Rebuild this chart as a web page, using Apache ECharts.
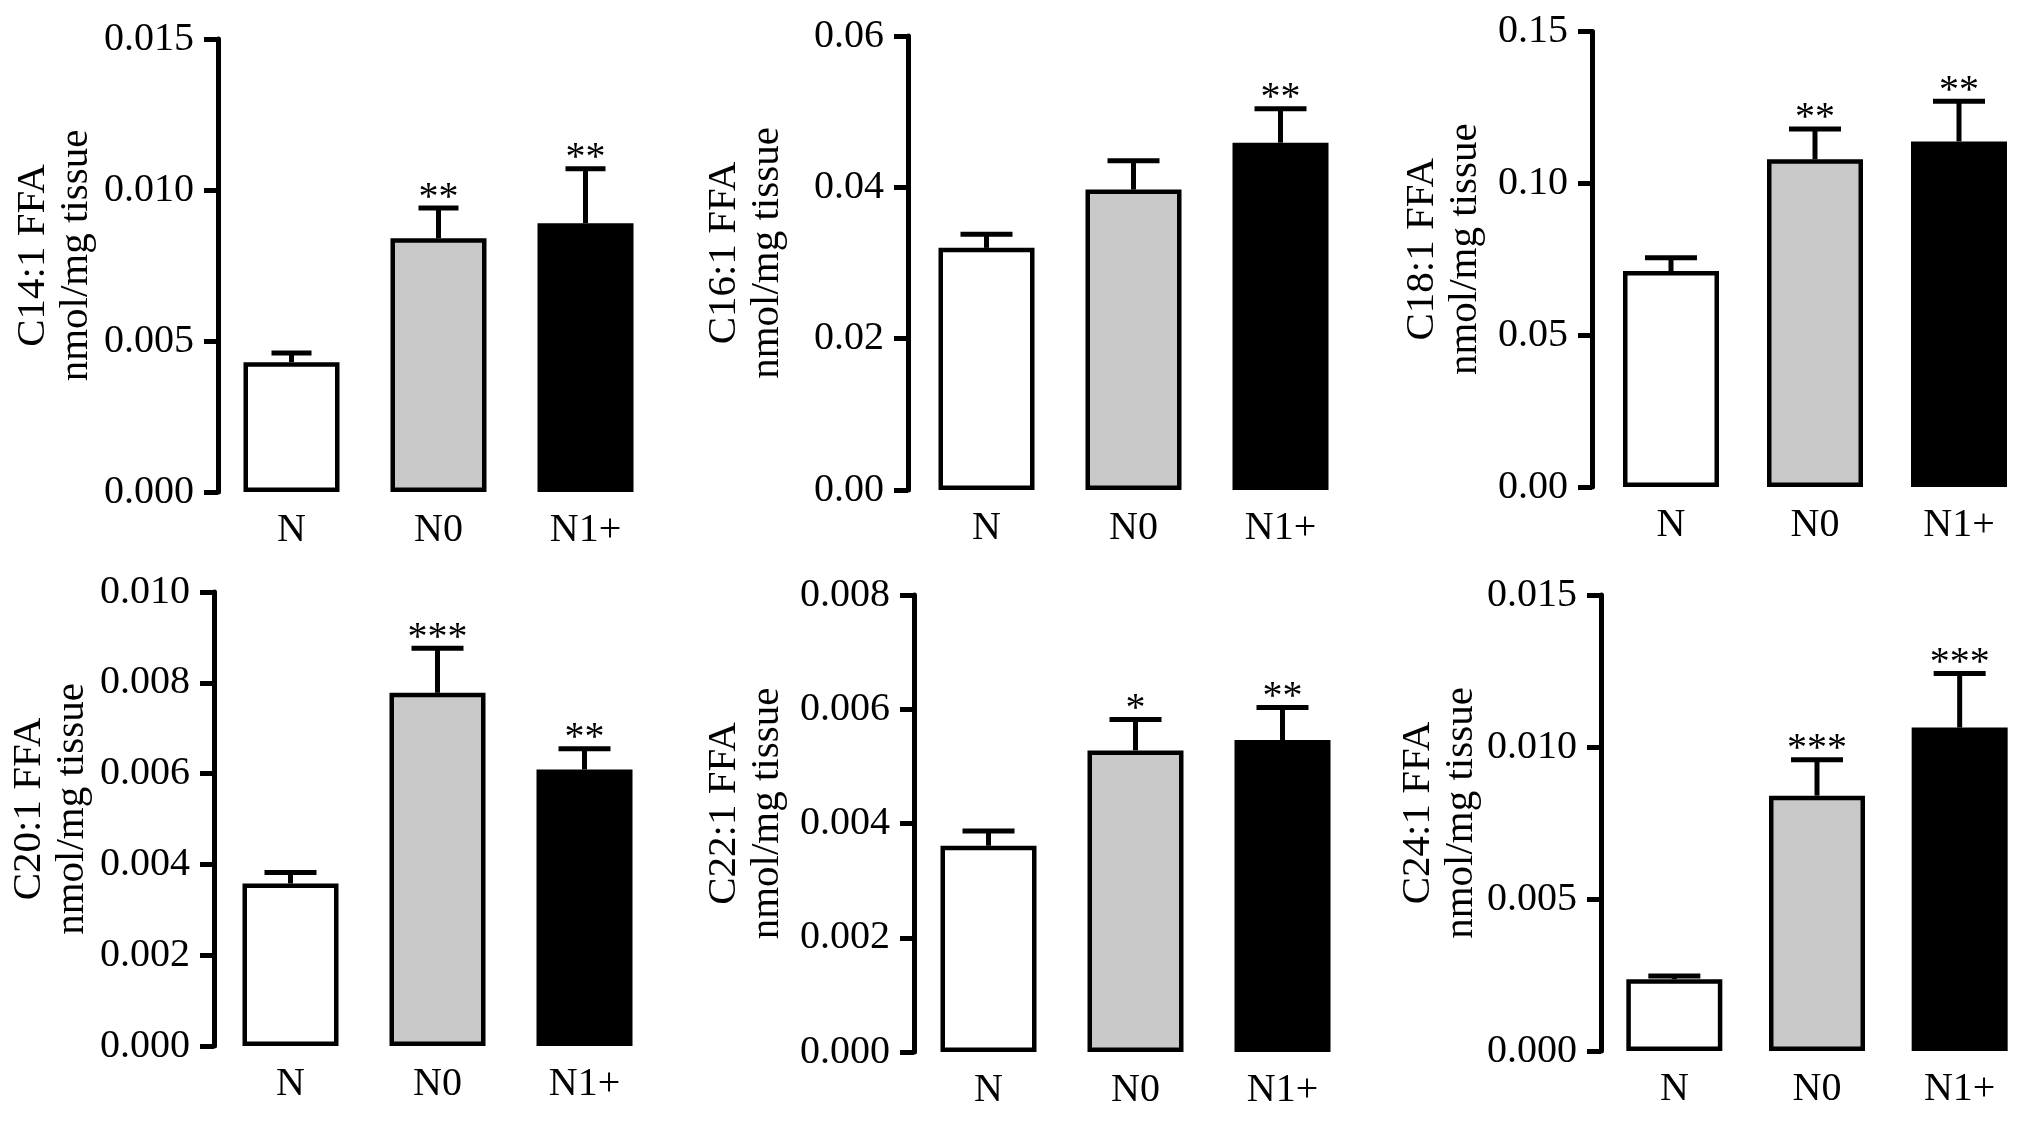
<!DOCTYPE html>
<html>
<head>
<meta charset="utf-8">
<script src="https://cdn.jsdelivr.net/npm/echarts@6/dist/echarts.min.js"></script>
<style>
html,body{margin:0;padding:0;background:#fff;}
#chart{width:2031px;height:1122px;}
</style>
</head>
<body>
<div id="chart"></div>
<script>
// ---- data ----
const categories = ['N', 'N0', 'N1+'];
const unitLabel = 'nmol/mg tissue';
const panelTitles = ['C14:1 FFA', 'C16:1 FFA', 'C18:1 FFA', 'C20:1 FFA', 'C22:1 FFA', 'C24:1 FFA'];

const c14Mean = [0.0043, 0.0084, 0.0089];
const c14Upper = [0.0046, 0.0094, 0.0107];
const c14Stars = ['', '**', '**'];

const c16Mean = [0.0320, 0.0397, 0.0459];
const c16Upper = [0.0338, 0.0435, 0.0504];
const c16Stars = ['', '', '**'];

const c18Mean = [0.0711, 0.1079, 0.1138];
const c18Upper = [0.0755, 0.1179, 0.1270];
const c18Stars = ['', '**', '**'];

const c20Mean = [0.00358, 0.00778, 0.00609];
const c20Upper = [0.00382, 0.00876, 0.00655];
const c20Stars = ['', '***', '**'];

const c22Mean = [0.00361, 0.00528, 0.00546];
const c22Upper = [0.00387, 0.00582, 0.00603];
const c22Stars = ['', '*', '**'];

const c24Mean = [0.00236, 0.0084, 0.01064];
const c24Upper = [0.00247, 0.00958, 0.01242];
const c24Stars = ['', '***', '***'];

// axis ranges: max, interval, decimals
const axisMax = [0.015, 0.06, 0.15, 0.010, 0.008, 0.015];
const axisInterval = [0.005, 0.02, 0.05, 0.002, 0.002, 0.005];
const axisDecimals = [3, 2, 2, 3, 3, 3];

// ---- layout / style ----
const means = [c14Mean, c16Mean, c18Mean, c20Mean, c22Mean, c24Mean];
const uppers = [c14Upper, c16Upper, c18Upper, c20Upper, c22Upper, c24Upper];
const stars = [c14Stars, c16Stars, c18Stars, c20Stars, c22Stars, c24Stars];

const gridBoxes = [
  {left: 218, top: 39, height: 453, off: 0, gap: 120, cap: 40},
  {left: 913, top: 36, height: 454, off: 5, gap: 119, cap: 52},
  {left: 1599, top: 31.5, height: 455.5, off: 7, gap: 105, cap: 52},
  {left: 217, top: 592, height: 454, off: 3, gap: 120, cap: 52},
  {left: 915, top: 595, height: 457, off: 1, gap: 125, cap: 52},
  {left: 1603, top: 595, height: 456, off: 2, gap: 114, cap: 52}
];
const barColors = ['#ffffff', '#c8c8c8', '#000000'];
const FONT = '"Liberation Serif", "Times New Roman", serif';

const grids = [], xAxes = [], yAxes = [], series = [];
gridBoxes.forEach((g, k) => {
  grids.push({left: g.left, top: g.top, width: 441, height: g.height, containLabel: false});
  xAxes.push({
    type: 'category', gridIndex: k, data: categories,
    axisLine: {show: false}, axisTick: {show: false},
    axisLabel: {fontFamily: FONT, fontSize: 40, color: '#000', margin: 18}
  });
  const dec = axisDecimals[k];
  yAxes.push({
    type: 'value', gridIndex: k, min: 0, max: axisMax[k], interval: axisInterval[k],
    offset: g.off,
    name: panelTitles[k] + '\n' + unitLabel,
    nameLocation: 'middle', nameRotate: 90, nameGap: g.gap,
    nameTextStyle: {fontFamily: FONT, fontSize: 41, lineHeight: 43, color: '#000', padding: [0, 0, 0, 20]},
    axisLine: {show: true, lineStyle: {color: '#000', width: 5}},
    axisTick: {show: true, length: 14, lineStyle: {color: '#000', width: 5}},
    splitLine: {show: false},
    axisLabel: {fontFamily: FONT, fontSize: 40, color: '#000', margin: 24,
      formatter: v => v.toFixed(dec)}
  });
  series.push({
    type: 'bar', xAxisIndex: k, yAxisIndex: k, barWidth: 96,
    data: means[k].map((v, i) => ({value: v, itemStyle: {color: barColors[i], borderColor: '#000', borderWidth: 4.5}})),
    silent: true, z: 2
  });
  const capW = g.cap;
  series.push({
    type: 'custom', xAxisIndex: k, yAxisIndex: k, z: 3, silent: true,
    data: means[k].map((v, i) => [i, v, uppers[k][i], stars[k][i]]),
    encode: {x: 0, y: [1, 2]},
    renderItem: function (params, api) {
      const i = api.value(0);
      const base = api.coord([i, api.value(1)]);
      const top = api.coord([i, api.value(2)]);
      const label = stars[k][params.dataIndex];
      const children = [
        {type: 'line', shape: {x1: base[0], y1: base[1], x2: top[0], y2: top[1]},
         style: {stroke: '#000', lineWidth: 5}},
        {type: 'line', shape: {x1: top[0] - capW / 2, y1: top[1], x2: top[0] + capW / 2, y2: top[1]},
         style: {stroke: '#000', lineWidth: 5}}
      ];
      if (label) {
        children.push({type: 'text', style: {
          text: label, x: top[0], y: top[1] - 10,
          align: 'center', verticalAlign: 'middle',
          textAlign: 'center', textVerticalAlign: 'middle',
          font: '40px ' + FONT, fontSize: 40, fontFamily: FONT, fill: '#000'
        }});
      }
      return {type: 'group', children: children};
    }
  });
});

const chart = echarts.init(document.getElementById('chart'), null, {renderer: 'canvas'});
chart.setOption({
  backgroundColor: '#ffffff',
  animation: false,
  grid: grids, xAxis: xAxes, yAxis: yAxes, series: series
});
</script>
</body>
</html>
